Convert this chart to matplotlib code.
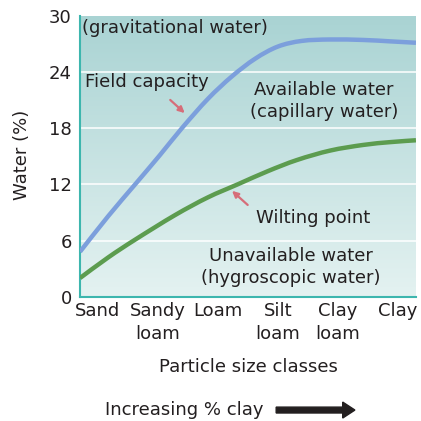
import numpy as np
import matplotlib
matplotlib.use("Agg")
import matplotlib.pyplot as plt
from matplotlib.colors import LinearSegmentedColormap
from matplotlib.path import Path
from matplotlib.patches import PathPatch, FancyArrow

plt.rcParams["font.family"] = ["DejaVu Sans"]

# soil classes along the x axis
classes = ["Sand", "Sandy\nloam", "Loam", "Silt\nloam", "Clay\nloam", "Clay"]
yticks = [0, 6, 12, 18, 24, 30]

# field capacity curve (x in class units, water %)
fc_x = [-0.30, 0.17, 0.62, 1.03, 1.40, 1.83, 2.23, 2.62, 3.00, 3.40, 3.87, 4.42, 4.87, 5.30]
fc_y = [4.8, 8.6, 12.0, 15.1, 18.0, 21.1, 23.5, 25.4, 26.7, 27.3, 27.45, 27.4, 27.25, 27.1]

# wilting point curve
wp_x = [-0.30, 0.17, 0.62, 1.28, 1.83, 2.33, 2.83, 3.32, 3.87, 4.42, 4.87, 5.30]
wp_y = [2.0, 4.2, 6.1, 8.7, 10.6, 12.0, 13.4, 14.6, 15.6, 16.2, 16.5, 16.7]

TEXT = "#231f20"
FS = 13


def smooth_path(xs, ys):
    # Catmull-Rom through the points, drawn as cubic Bezier segments
    p = np.column_stack([xs, ys])
    verts = [p[0]]
    codes = [Path.MOVETO]
    n = len(p)
    for i in range(n - 1):
        p0 = p[i - 1] if i > 0 else p[i]
        p3 = p[i + 2] if i + 2 < n else p[i + 1]
        c1 = p[i] + (p[i + 1] - p0) / 6
        c2 = p[i + 1] - (p3 - p[i]) / 6
        verts += [c1, c2, p[i + 1]]
        codes += [Path.CURVE4] * 3
    return Path(verts, codes)


fig = plt.figure(figsize=(4.21, 4.21), dpi=100)
ax = fig.add_axes([0.190, 0.295, 0.798, 0.668])

xmin, xmax = -0.3, 5.3
ax.set_xlim(xmin, xmax)
ax.set_ylim(0, 30)

# vertical gradient background
cmap = LinearSegmentedColormap.from_list("bg", ["#e4f2f1", "#a9d3d3"])
grad = np.linspace(0, 1, 256).reshape(-1, 1)
ax.imshow(grad, cmap=cmap, aspect="auto", origin="lower",
          extent=[xmin, xmax, 0, 30], zorder=0)

for y in yticks[1:-1]:
    ax.axhline(y, color="white", lw=1.1, zorder=1)

ax.add_patch(PathPatch(smooth_path(fc_x, fc_y), facecolor="none",
                       edgecolor="#7c9fdc", lw=3.2, capstyle="butt", zorder=3))
ax.add_patch(PathPatch(smooth_path(wp_x, wp_y), facecolor="none",
                       edgecolor="#5c9c4f", lw=3.2, capstyle="butt", zorder=3))

txt = dict(fontsize=FS, color=TEXT, zorder=4)
ax.text(-0.26, 28.7, "(gravitational water)", ha="left", va="center", **txt)
ax.text(-0.22, 22.9, "Field capacity", ha="left", va="center", **txt)
ax.text(3.77, 20.9, "Available water\n(capillary water)", ha="center", va="center",
        linespacing=1.25, **txt)
ax.text(2.63, 8.4, "Wilting point", ha="left", va="center", **txt)
ax.text(3.22, 3.2, "Unavailable water\n(hygroscopic water)", ha="center", va="center",
        linespacing=1.25, **txt)

arrow = dict(arrowstyle="-|>", color="#d66d79", lw=1.6, mutation_scale=9)
ax.annotate("", xy=(1.48, 19.4), xytext=(1.17, 21.2), arrowprops=arrow, zorder=4)
ax.annotate("", xy=(2.20, 11.5), xytext=(2.53, 9.6), arrowprops=arrow, zorder=4)

ax.set_xticks(range(len(classes)))
ax.set_xticklabels(classes, fontsize=FS, color=TEXT, linespacing=1.3, va="top")
ax.set_yticks(yticks)
ax.set_yticklabels([str(v) for v in yticks], fontsize=FS, color=TEXT)
ax.tick_params(length=0)
ax.tick_params(axis="y", pad=6)
ax.tick_params(axis="x", pad=4)

for side in ["top", "right"]:
    ax.spines[side].set_visible(False)
for side in ["left", "bottom"]:
    ax.spines[side].set_color("#3db6ae")
    ax.spines[side].set_linewidth(1.5)

fig.text(0.052, 0.632, "Water (%)", rotation=90, fontsize=FS, color=TEXT,
         ha="center", va="center")
fig.text(0.589, 0.128, "Particle size classes", fontsize=FS, color=TEXT,
         ha="center", va="center")

fig.text(0.249, 0.026, "Increasing % clay", fontsize=FS, color=TEXT,
         ha="left", va="center")
fig.patches.append(FancyArrow(
    0.656, 0.026, 0.187, 0, width=0.014, head_width=0.038, head_length=0.029,
    length_includes_head=True, color=TEXT, transform=fig.transFigure, figure=fig))

fig.savefig("out.png", dpi=100)
